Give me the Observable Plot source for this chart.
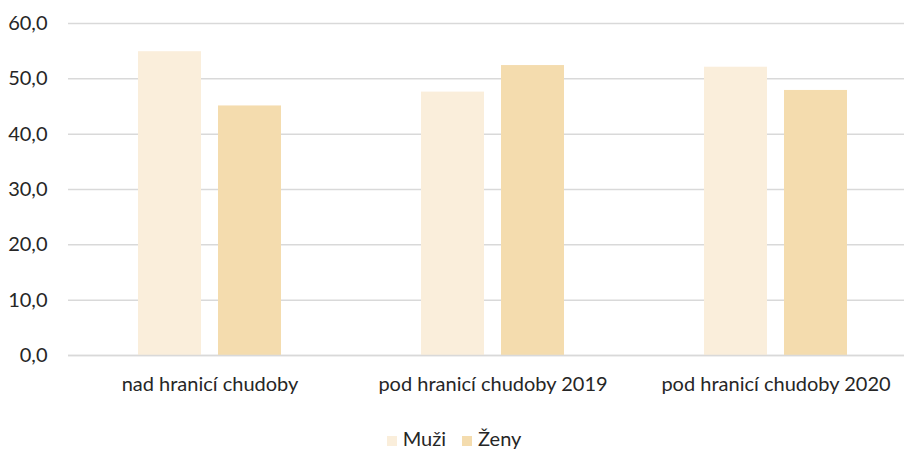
<!DOCTYPE html>
<html>
<head>
<meta charset="utf-8">
<script src="https://cdn.jsdelivr.net/npm/d3@7"></script>
<script src="https://cdn.jsdelivr.net/npm/@observablehq/plot@0.6"></script>
<style>
  body { margin: 0; background: #fff; font-family: Lato, "Open Sans", sans-serif; overflow: hidden; }
  #chart { width: 904px; overflow: hidden; }
  #chart svg { display: block; }
  .legend { text-align: center; font-size: 20px; line-height: 24px; color: #262626; padding-top: 4px; margin-left: 4px; }
  .legend span.item { display: inline-block; margin: 0 8px; }
  .legend span.sw { display: inline-block; width: 10px; height: 10px; margin-right: 6px; vertical-align: baseline; }
</style>
</head>
<body>
<div id="chart"></div>
<script>
const categories = ["nad hranicí chudoby", "pod hranicí chudoby 2019", "pod hranicí chudoby 2020"];
const series = ["Muži", "Ženy"];
const muzi = [54.9, 47.6, 52.1];
const zeny = [45.1, 52.4, 47.9];
const yTicks = [0, 10, 20, 30, 40, 50, 60];
const colors = ["#faeedb", "#f4dcae"];

const data = categories.flatMap((c, i) => [
  {cat: c, s: series[0], v: muzi[i]},
  {cat: c, s: series[1], v: zeny[i]}
]);

const fmt = d => d.toFixed(1).replace(".", ",");

const chart = Plot.plot({
  width: 904,
  height: 422,
  marginTop: 23,
  marginBottom: 67,
  marginLeft: 68,
  marginRight: -13,
  style: {fontFamily: "Lato", fontSize: "20px", color: "#262626", background: "#fff"},
  fx: {domain: categories, padding: 0, label: null},
  x: {domain: series, paddingInner: 0.21, paddingOuter: 0.852, axis: null},
  y: {domain: [0, 60]},
  color: {domain: series, range: colors},
  marks: [
    Plot.gridY(yTicks, {stroke: "#d9d9d9", strokeOpacity: 1, strokeWidth: 1.5}),
    Plot.barY(data, {fx: "cat", x: "s", y: "v", fill: "s"}),
    Plot.ruleY([0], {stroke: "#d9d9d9", strokeWidth: 1.5}),
    Plot.axisY(yTicks, {tickSize: 0, tickPadding: 21, tickFormat: fmt, label: null, fontSize: 20}),
    Plot.axisFx({anchor: "bottom", tickSize: 0, tickPadding: 21, label: null, fontSize: 20})
  ]
});
document.getElementById("chart").appendChild(chart);

const legend = document.createElement("div");
legend.className = "legend";
series.forEach((s, i) => {
  const item = document.createElement("span");
  item.className = "item";
  const sw = document.createElement("span");
  sw.className = "sw";
  sw.style.background = colors[i];
  item.appendChild(sw);
  item.appendChild(document.createTextNode(s));
  legend.appendChild(item);
});
document.body.appendChild(legend);
</script>
</body>
</html>
